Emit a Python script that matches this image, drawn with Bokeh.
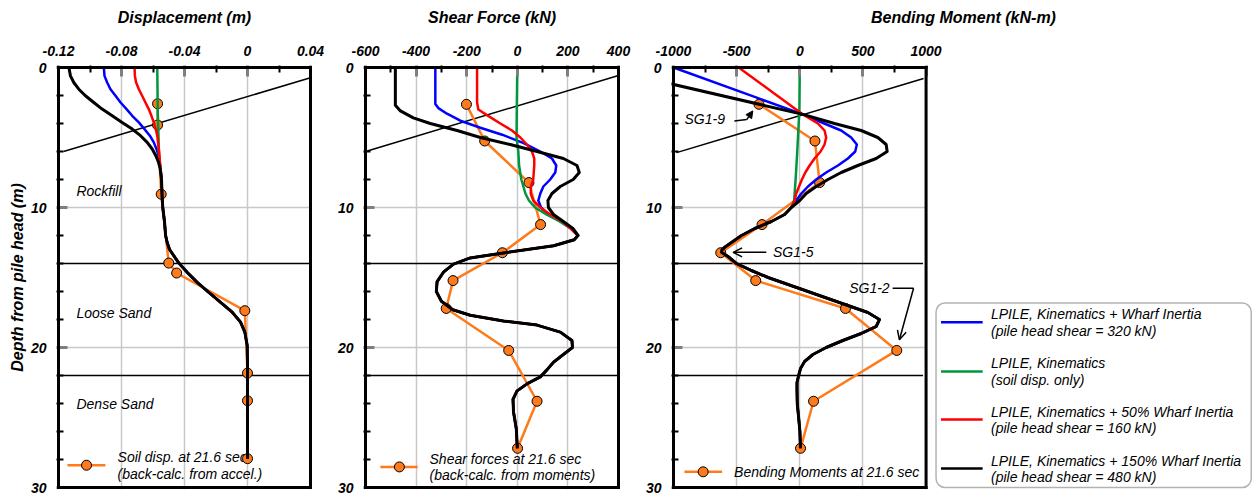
from bokeh.plotting import figure
from bokeh.layouts import row
from bokeh.models import Range1d, FixedTicker, Arrow, NormalHead, OpenHead, BoxAnnotation
from bokeh.core.properties import value
from bokeh.embed import file_html
from bokeh.resources import INLINE

FONT = "Liberation Sans"
BLUE, GREEN, RED, BLACK, ORANGE = "#0000ff", "#00963c", "#ff0000", "#000000", "#ff7a1a"
GRID = "#c8c8c8"

# ---------------------------------------------------------------- data
# depth axis
depth_ticks = [0, 10, 20, 30]
depth_tick_labels = ["0", "10", "20", "30"]
depth_minor = [2, 4, 6, 8, 12, 14, 16, 18, 22, 24, 26, 28]
layer_bounds = [14.0, 22.0]
layer_names = ["Rockfill", "Loose Sand", "Dense Sand"]
layer_label_depth = [8.84, 17.53, 24.0]

# Displacement (m)
disp_ticks = [-0.12, -0.08, -0.04, 0, 0.04]
disp_tick_labels = ["-0.12", "-0.08", "-0.04", "0", "0.04"]
disp_minor = [-0.10, -0.06, -0.02, 0.02]
disp_black_depth = [0, 0.6, 1.07, 1.55, 2.02, 2.5, 2.97, 3.45, 3.92, 4.4, 4.87, 5.35, 5.82, 6.3, 6.77, 7.25]
disp_black = [-0.1134, -0.1124, -0.1103, -0.1071, -0.1029, -0.0976, -0.0923, -0.0859, -0.0796,
              -0.0732, -0.0679, -0.0637, -0.0605, -0.0582, -0.0565, -0.0554]
disp_blue_depth = [0, 0.6, 1.07, 1.55, 2.02, 2.5, 2.97, 3.45, 3.92, 4.4, 4.87, 5.35, 5.82, 6.3, 7.0]
disp_blue = [-0.0912, -0.0908, -0.0891, -0.087, -0.0838, -0.0806, -0.0768, -0.0732, -0.069,
             -0.0654, -0.062, -0.0595, -0.0578, -0.0565, -0.0554]
disp_red_depth = [0, 0.6, 1.07, 1.55, 2.02, 2.5, 2.97, 3.45, 3.92, 4.4, 4.87, 5.82, 7.0]
disp_red = [-0.0717, -0.0715, -0.0707, -0.069, -0.0669, -0.0648, -0.0627, -0.061, -0.0595,
            -0.0582, -0.0573, -0.0563, -0.0554]
disp_green_depth = [0, 3.0, 6.0, 7.0]
disp_green = [-0.0573, -0.0570, -0.0563, -0.0557]
disp_common_depth = [7.96, 9, 10, 11, 12, 12.5, 13, 13.97, 14.63, 15.35, 16.06, 16.77, 17.48,
                     18.19, 18.9, 19.85, 21, 22, 24, 26, 27.94]
disp_common = [-0.0546, -0.0543, -0.0538, -0.0527, -0.052, -0.051, -0.0495, -0.0436, -0.0383,
               -0.0319, -0.0246, -0.0171, -0.0097, -0.0044, -0.0017, -0.0002, 0, 0, 0, 0, 0]
disp_meas_depth = [2.59, 4.11, 9.05, 13.97, 14.68, 17.37, 21.83, 23.8, 27.94]
disp_meas = [-0.0571, -0.0571, -0.0548, -0.050, -0.045, -0.0017, 0.0, 0.0, 0.0]

# Shear force (kN)
shear_ticks = [-600, -400, -200, 0, 200, 400]
shear_tick_labels = ["-600", "-400", "-200", "0", "200", "400"]
shear_minor = [-500, -300, -100, 100, 300]
shear_black_depth = [0, 2.7, 3.1, 3.6, 4.0, 4.5, 5.0, 5.5, 6.0, 6.5, 7.0, 7.5, 8.0, 8.5, 9.0, 9.5,
                     10.0, 10.5, 11.0, 11.5]
shear_black = [-482, -482, -462, -411, -344, -238, -146, -28, 78, 182, 236, 245, 221, 170, 137,
               121, 123, 143, 182, 220]
shear_blue_depth = [0, 2.6, 2.9, 3.3, 3.8, 4.3, 4.8, 5.4, 6.0, 6.5, 7.0, 7.5, 8.0, 8.5, 9.0, 9.5,
                    10.0, 10.5, 11.0, 11.5]
shear_blue = [-324, -324, -312, -278, -225, -146, -60, 25, 91, 137, 154, 150, 130, 103, 91, 83,
              94, 123, 170, 212]
shear_red_depth = [0, 2.5, 3.0, 3.4, 4.0, 4.5, 5.0, 5.5, 6.0, 6.5, 7.0, 8.0, 8.5, 9.0, 9.5, 10.0,
                   10.5, 11.0, 11.5]
shear_red = [-159, -159, -154, -120, -67, -21, 12, 38, 58, 67, 67, 63, 54, 53, 63, 91, 130, 177, 211]
shear_green_depth = [0, 3.0, 5.0, 6.0, 7.0, 8.0, 9.0, 9.5, 10.0, 10.5, 11.0, 11.5]
shear_green = [0, -2, -3, 4, 7, 16, 32, 46, 70, 115, 168, 212]
shear_common_depth = [12.0, 12.3, 12.73, 13.21, 13.6, 14.04, 14.6, 15.3, 16.0, 16.7, 17.3, 17.7,
                      18.1, 18.4, 18.9, 19.5, 20.0, 20.5, 21.05, 21.6, 22.1, 22.6, 23.1, 23.7,
                      24.6, 25.8, 27.2]
shear_common = [240, 225, 144, -41, -186, -252, -291, -317, -320, -300, -255, -186, -55, 78, 170,
                216, 218, 182, 143, 117, 91, 38, -1, -17, -15, -4, 0]
gauge_depth = [2.63, 5.25, 8.22, 11.22, 13.23, 15.22, 17.21, 20.21, 23.84, 27.2]
shear_meas = [-201, -129, 46, 92, -59, -254, -281, -34, 78, 1]

# Bending moment (kN-m)
mom_ticks = [-1000, -500, 0, 500, 1000]
mom_tick_labels = ["-1000", "-500", "0", "500", "1000"]
mom_minor = [-750, -250, 250, 750]
mom_black_depth = [0, 3.35, 4.0, 4.5, 5.0, 5.5, 6.0, 6.5, 7.0, 7.5, 8.0, 8.5, 9.0, 9.5]
mom_black = [-1580, 25, 275, 486, 618, 684, 692, 605, 460, 328, 223, 130, 51, 0]
mom_blue_depth = [0, 3.35, 4.0, 4.5, 5.0, 5.5, 6.0, 6.5, 7.0, 7.5, 8.0, 8.5, 9.0, 9.5]
mom_blue = [-1000, 25, 194, 328, 407, 452, 439, 381, 302, 209, 130, 65, 12, -28]
mom_red_depth = [0, 3.35, 4.0, 4.5, 5.0, 5.5, 6.0, 6.5, 7.0, 7.5, 8.0, 8.5, 9.0, 9.5]
mom_red = [-484, 25, 144, 196, 209, 196, 165, 117, 78, 44, 17, -6, -28, -41]
mom_green_depth = [0, 3.0, 6.0, 8.0, 9.0, 9.5]
mom_green = [0, -3, -20, -33, -41, -45]
mom_common_depth = [10.0, 10.5, 11.0, 11.5, 12.0, 12.5, 12.8, 13.0, 13.2, 13.5, 14.0, 14.5, 15.0,
                    15.5, 16.0, 16.5, 17.0, 17.5, 18.0, 18.5, 19.0, 19.5, 20.0, 20.5, 21.0, 21.5,
                    22.0, 22.5, 23.0, 24.0, 25.0, 26.0, 27.2]
mom_common = [-67, -120, -225, -357, -462, -541, -589, -615, -620, -568, -502, -383, -251, -93, 65,
              223, 381, 539, 631, 605, 486, 341, 209, 104, 38, 6, -9, -22, -22, -20, -9, 1, 5]
mom_meas = [-323, 120, 157, -299, -626, -349, 362, 768, 109, 6]

series_names = [
    ("LPILE, Kinematics + Wharf Inertia", "(pile head shear = 320 kN)"),
    ("LPILE, Kinematics", "(soil disp. only)"),
    ("LPILE, Kinematics + 50% Wharf Inertia", "(pile head shear = 160 kN)"),
    ("LPILE, Kinematics + 150% Wharf Inertia", "(pile head shear = 480 kN)"),
]
series_colors = [BLUE, GREEN, RED, BLACK]

# ---------------------------------------------------------------- layout helpers
H = 496
TOP_BORDER_PX = 67      # page y of depth 0
BOT_BORDER_PX = 487     # page y of depth 30
PX_PER_M = (BOT_BORDER_PX - TOP_BORDER_PX) / 30.0
PAD = 2
PAD_D = PAD / PX_PER_M


def make_panel(fig_x0, width, left_px, right_px, x_lo, x_hi, frame_right_px,
               ticks, minors, labels, title, ylabel=None):
    upp = (x_hi - x_lo) / (right_px - left_px)
    xs = x_lo - PAD * upp
    xe = x_lo + (frame_right_px - left_px) * upp
    p = figure(width=width, height=H, x_range=Range1d(xs, xe),
               y_range=Range1d(30 + PAD_D, -PAD_D),
               x_axis_location="above", y_axis_location="left",
               output_backend="svg", toolbar_location=None,
               min_border_left=left_px - PAD - fig_x0,
               min_border_right=fig_x0 + width - frame_right_px,
               min_border_top=TOP_BORDER_PX - PAD,
               min_border_bottom=H - (BOT_BORDER_PX + PAD))
    p.outline_line_color = None
    p.background_fill_color = "white"
    p.border_fill_color = "white"

    xa = p.xaxis[0]
    xtk = FixedTicker(ticks=ticks, minor_ticks=minors)
    xa.ticker = xtk
    xa.major_label_overrides = {t: l for t, l in zip(ticks, labels)}
    ya = p.yaxis[0]
    ya.ticker = FixedTicker(ticks=depth_ticks, minor_ticks=depth_minor)
    ya.major_label_overrides = {t: l for t, l in zip(depth_ticks, depth_tick_labels)}
    for ax in (xa, ya):
        ax.axis_line_color = None
        ax.major_tick_in = 11
        ax.major_tick_out = 0
        ax.major_tick_line_color = "#7f7f7f"
        ax.major_tick_line_width = 3
        ax.minor_tick_in = 7
        ax.minor_tick_out = 0
        ax.minor_tick_line_color = "black"
        ax.minor_tick_line_width = 2
        ax.major_label_text_font = FONT
        ax.major_label_text_font_style = "bold italic"
        ax.major_label_text_font_size = "14px"
        ax.major_label_text_color = "black"
        ax.axis_label_text_color = "black"
    xa.major_label_standoff = 10
    ya.major_label_standoff = 10
    xa.axis_label = title
    xa.axis_label_text_font = FONT
    xa.axis_label_text_font_style = "bold italic"
    xa.axis_label_text_font_size = "16px"
    xa.axis_label_standoff = 17
    if ylabel:
        ya.axis_label = ylabel
        ya.axis_label_text_font = FONT
        ya.axis_label_text_font_style = "bold italic"
        ya.axis_label_text_font_size = "16px"
        ya.axis_label_standoff = 2

    p.xgrid.ticker = xtk
    p.xgrid.grid_line_color = GRID
    p.xgrid.grid_line_width = 1.5
    p.ygrid.visible = False
    # horizontal grid lines at 10 and 20
    p.segment(x0=[x_lo, x_lo], x1=[x_hi, x_hi], y0=[10, 20], y1=[10, 20],
              line_color=GRID, line_width=1.5, level="underlay")
    return p


def border(p, x_lo, x_hi):
    p.segment(x0=[x_lo, x_lo, x_lo, x_hi], y0=[0, 30, 0, 0],
              x1=[x_hi, x_hi, x_lo, x_hi], y1=[0, 30, 30, 30],
              line_color="black", line_width=3, line_cap="square", level="overlay")


def curves(p, upper, common, lw=2.5):
    for d, v, c in upper:
        w = 3 if c == BLACK else lw
        p.line(v + common[1], d + common[0], line_color=c, line_width=w, line_join="round")


def measured(p, d, v):
    p.line(v, d, line_color=ORANGE, line_width=2.5)
    p.scatter(v, d, size=10, fill_color=ORANGE, line_color="black", line_width=1)


def ptext(p, xs, ys, texts, size="14px", align="left", style="italic"):
    p.text(x=xs, y=ys, text=texts, text_font=value(FONT), text_font_size=size,
           text_font_style=style, text_align=align, text_baseline="middle", text_color="black")


def legend_sample(p, x0, x1, xm, d):
    p.line([x0, x1], [d, d], line_color=ORANGE, line_width=2.5)
    p.scatter([xm], [d], size=10, fill_color=ORANGE, line_color="black", line_width=1)


# ---------------------------------------------------------------- panel 1: displacement
p1 = make_panel(0, 326, 58, 310, -0.12, 0.04, 312, disp_ticks, disp_minor, disp_tick_labels,
                "Displacement (m)", ylabel="Depth from pile head (m)")
p1.segment(x0=[-0.12, -0.12, -0.1168], x1=[0.04, 0.04, 0.04], y0=layer_bounds + [6.0],
           y1=layer_bounds + [0.73], line_color="black", line_width=1.5)
ptext(p1, [-0.1086] * 3, layer_label_depth, layer_names)
ptext(p1, [-0.0825, -0.0825], [27.79, 29.0], ["Soil disp. at 21.6 sec", "(back-calc. from accel.)"])
legend_sample(p1, -0.1143, -0.0902, -0.1022, 28.41)
measured(p1, disp_meas_depth, disp_meas)
curves(p1, [(disp_blue_depth, disp_blue, BLUE), (disp_green_depth, disp_green, GREEN),
            (disp_red_depth, disp_red, RED), (disp_black_depth, disp_black, BLACK)],
       (disp_common_depth, disp_common))
border(p1, -0.12, 0.04)

# ---------------------------------------------------------------- panel 2: shear
p2 = make_panel(326, 316, 365, 618, -600, 400, 620, shear_ticks, shear_minor, shear_tick_labels,
                "Shear Force (kN)")
p2.segment(x0=[-600, -600, -593], x1=[400, 400, 400], y0=layer_bounds + [5.96],
           y1=layer_bounds + [0.57], line_color="black", line_width=1.5)
ptext(p2, [-347, -347], [27.93, 29.12], ["Shear forces at 21.6 sec", "(back-calc. from moments)"])
legend_sample(p2, -541, -394, -466, 28.53)
measured(p2, gauge_depth, shear_meas)
curves(p2, [(shear_blue_depth, shear_blue, BLUE), (shear_green_depth, shear_green, GREEN),
            (shear_red_depth, shear_red, RED), (shear_black_depth, shear_black, BLACK)],
       (shear_common_depth, shear_common))
border(p2, -600, 400)

# ---------------------------------------------------------------- panel 3: moment + legend
p3 = make_panel(642, 614, 672, 925, -1000, 1000, 1255, mom_ticks, mom_minor, mom_tick_labels,
                "Bending Moment (kN-m)")
p3.segment(x0=[-1000, -1000, -976], x1=[976, 976, 980], y0=layer_bounds + [6.08],
           y1=layer_bounds + [0.78], line_color="black", line_width=1.5)
ptext(p3, [-520], [28.88], ["Bending Moments at 21.6 sec"])
legend_sample(p3, -913, -615, -765, 28.88)
measured(p3, gauge_depth, mom_meas)
curves(p3, [(mom_blue_depth, mom_blue, BLUE), (mom_green_depth, mom_green, GREEN),
            (mom_red_depth, mom_red, RED), (mom_black_depth, mom_black, BLACK)],
       (mom_common_depth, mom_common))
border(p3, -1000, 1000)

# strain gauge call-outs
ptext(p3, [-913, -212, 391], [3.71, 13.2, 15.77], ["SG1-9", "SG1-5", "SG1-2"])
p3.line([-518, -420], [3.82, 3.72], line_color="black", line_width=1.5)
p3.add_layout(Arrow(end=NormalHead(size=7, fill_color="black", line_color="black"),
                    x_start=-420, y_start=3.72, x_end=-372, y_end=3.1, line_width=1.5))
p3.add_layout(Arrow(end=OpenHead(size=9, line_width=1.5), x_start=-265, y_start=13.2,
                    x_end=-528, y_end=13.2, line_width=1.5))
p3.line([735, 901], [15.77, 15.77], line_color="black", line_width=1.5)
p3.add_layout(Arrow(end=OpenHead(size=9, line_width=1.5), x_start=901, y_start=15.77,
                    x_end=789, y_end=19.45, line_width=1.5))

# series legend box (right)
p3.add_layout(BoxAnnotation(left=1079, right=3575, top=16.82, bottom=30.0, fill_color=None,
                            line_color="black", line_width=1.5, border_radius=9,
                            level="overlay"))
leg_line_depth = [18.19, 21.71, 25.15, 28.65]
for (t1, t2), c, d in zip(series_names, series_colors, leg_line_depth):
    p3.line([1118, 1448], [d, d], line_color=c, line_width=2.5)
    ptext(p3, [1514, 1514], [d - 0.57, d + 0.62], [t1, t2])

layout = row(p1, p2, p3)
open("out.html", "w").write(file_html(layout, INLINE))
